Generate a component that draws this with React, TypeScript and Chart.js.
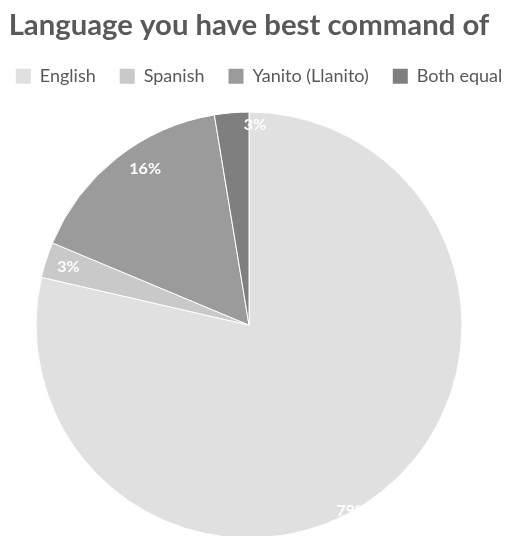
import React, { useEffect, useRef } from 'react';
import { Chart, registerables } from 'chart.js';

Chart.register(...registerables);

// ---- data ----
const categories = ['English', 'Spanish', 'Yanito (Llanito)', 'Both equal'];
const shares = [78.6, 2.7, 16.1, 2.6];
const sliceColors = ['#e0e0e0', '#c9c9c9', '#9b9b9b', '#7f7f7f'];
const chartTitle = 'Language you have best command of';

// ---- label placement styling (radius factor, angular nudge in degrees) ----
const LABEL_RADIUS = [1.0, 0.89, 0.88, 0.94];
const LABEL_ANGLE_SHIFT_DEG = [9.5, 0, 4.7, 6.4];
const LEGEND_SHIFT_X = 10;

const pctLabels = {
  id: 'pctLabels',
  afterDatasetsDraw(chart: any) {
    const meta = chart.getDatasetMeta(0);
    const data = chart.data.datasets[0].data as number[];
    const total = data.reduce((a, b) => a + b, 0);
    const ctx = chart.ctx;
    ctx.save();
    ctx.font = 'bold 16px Lato';
    ctx.fillStyle = '#ffffff';
    ctx.textAlign = 'center';
    ctx.textBaseline = 'middle';
    meta.data.forEach((arc: any, i: number) => {
      const { x, y, startAngle, endAngle, outerRadius } = arc.getProps(
        ['x', 'y', 'startAngle', 'endAngle', 'outerRadius'],
        true
      );
      const mid = (startAngle + endAngle) / 2 + (LABEL_ANGLE_SHIFT_DEG[i] * Math.PI) / 180;
      const r = outerRadius * LABEL_RADIUS[i];
      ctx.fillText(
        Math.round((data[i] / total) * 100) + '%',
        x + Math.cos(mid) * r,
        y + Math.sin(mid) * r
      );
    });
    ctx.restore();
  },
};

const legendNudge = {
  id: 'legendNudge',
  afterLayout(chart: any) {
    if (chart.legend) {
      chart.legend.left += LEGEND_SHIFT_X;
      chart.legend.right += LEGEND_SHIFT_X;
    }
  },
};

export default function App() {
  const canvasRef = useRef<HTMLCanvasElement | null>(null);

  useEffect(() => {
    let chart: Chart | null = null;
    let cancelled = false;
    const make = () => {
      if (cancelled || !canvasRef.current) return;
      chart = new Chart(canvasRef.current, {
        type: 'pie',
        data: {
          labels: categories,
          datasets: [
            {
              data: shares,
              backgroundColor: sliceColors,
              borderColor: '#ffffff',
              borderWidth: 1,
              radius: 213,
            } as any,
          ],
        },
        options: {
          responsive: false,
          animation: false,
          events: [],
          layout: { padding: 0 },
          plugins: {
            title: {
              display: true,
              text: chartTitle,
              color: '#595959',
              font: { family: 'Lato', size: 29.3, weight: 'bold' },
              padding: { top: 8, bottom: 0 },
            },
            legend: {
              display: true,
              position: 'top',
              labels: {
                color: '#595959',
                font: { family: 'Lato', size: 18 },
                boxWidth: 15,
                boxHeight: 15,
                padding: 24,
                generateLabels: (c: any) =>
                  Chart.overrides.pie.plugins.legend.labels
                    .generateLabels(c)
                    .map((l: any) => ({ ...l, lineWidth: 0 })),
              },
            },
            tooltip: { enabled: false },
          },
        },
        plugins: [pctLabels, legendNudge],
      });
    };
    const fontsReady = (document as any).fonts
      ? Promise.all([
          (document as any).fonts.load('bold 29px Lato'),
          (document as any).fonts.load('18px Lato'),
          (document as any).fonts.load('bold 16px Lato'),
        ]).catch(() => undefined)
      : Promise.resolve();
    fontsReady.then(make);
    return () => {
      cancelled = true;
      if (chart) chart.destroy();
    };
  }, []);

  return (
    <div
      style={{
        position: 'fixed',
        left: 0,
        top: 0,
        width: 505,
        height: 536,
        overflow: 'hidden',
        background: '#ffffff',
      }}
    >
      <div style={{ position: 'absolute', left: -31, top: 0, width: 560, height: 555 }}>
        <canvas ref={canvasRef} width={560} height={555} />
      </div>
    </div>
  );
}
